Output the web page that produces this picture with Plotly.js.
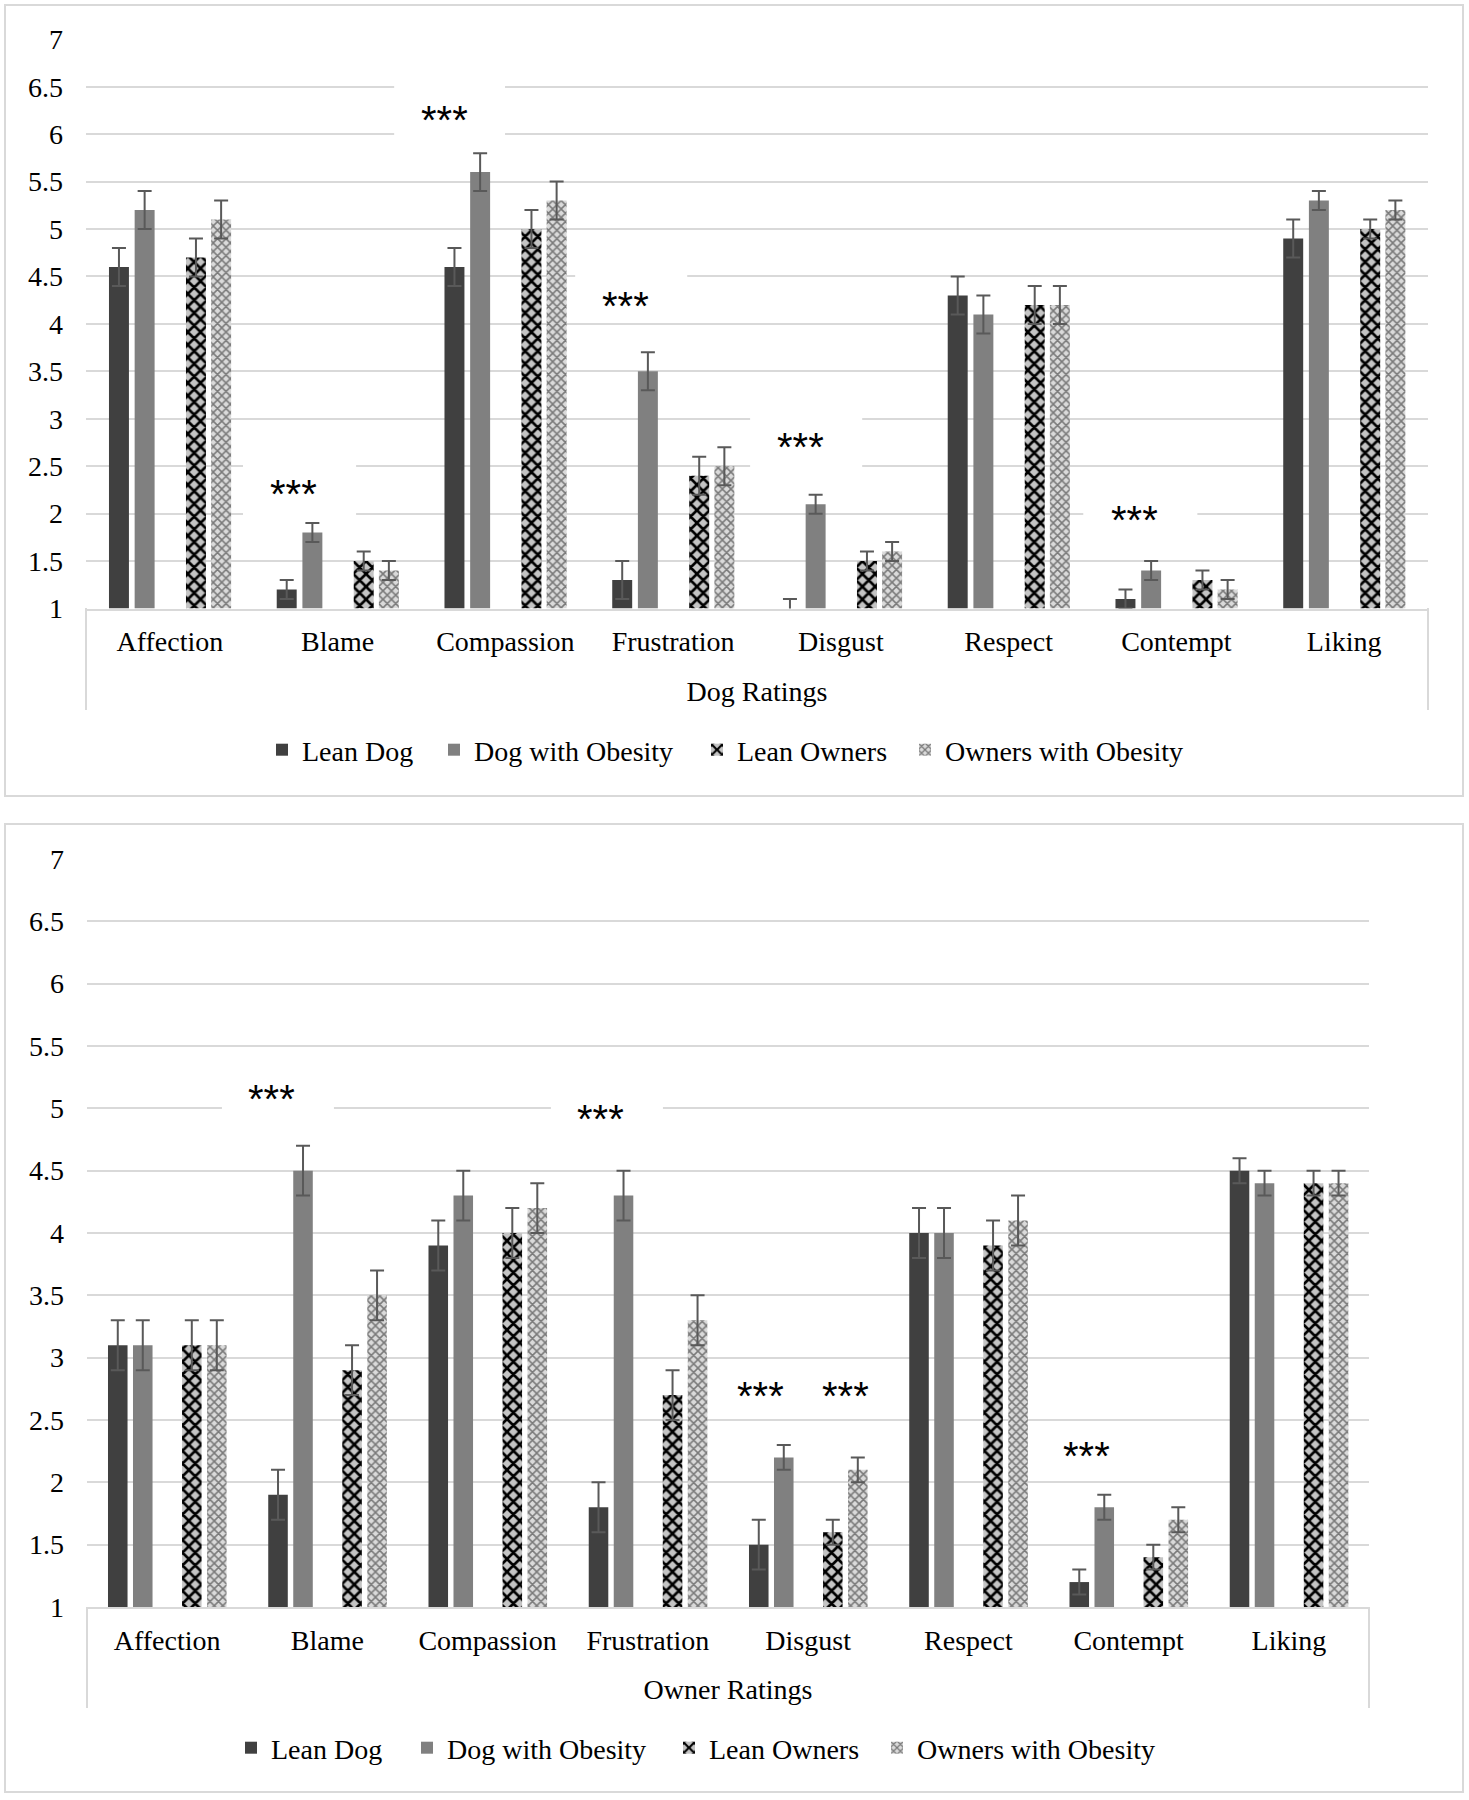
<!DOCTYPE html>
<html>
<head>
<meta charset="utf-8">
<script src="https://cdn.plot.ly/plotly-3.0.1.min.js"></script>
<style>html,body{margin:0;padding:0;background:#fff}#chart{width:1469px;height:1800px}</style>
</head>
<body>
<div id="chart"></div>
<script>
// ---------- data ----------
const categories = ['Affection','Blame','Compassion','Frustration','Disgust','Respect','Contempt','Liking'];
const seriesNames = ['Lean Dog','Dog with Obesity','Lean Owners','Owners with Obesity'];

// Dog ratings (top panel)
const dogLeanDog        = [4.6, 1.2, 4.6, 1.3, 1.0, 4.3, 1.1, 4.9];
const dogLeanDogErr     = [0.2, 0.1, 0.2, 0.2, 0.1, 0.2, 0.1, 0.2];
const dogObeseDog       = [5.2, 1.8, 5.6, 3.5, 2.1, 4.1, 1.4, 5.3];
const dogObeseDogErr    = [0.2, 0.1, 0.2, 0.2, 0.1, 0.2, 0.1, 0.1];
const dogLeanOwner      = [4.7, 1.5, 5.0, 2.4, 1.5, 4.2, 1.3, 5.0];
const dogLeanOwnerErr   = [0.2, 0.1, 0.2, 0.2, 0.1, 0.2, 0.1, 0.1];
const dogObeseOwner     = [5.1, 1.4, 5.3, 2.5, 1.6, 4.2, 1.2, 5.2];
const dogObeseOwnerErr  = [0.2, 0.1, 0.2, 0.2, 0.1, 0.2, 0.1, 0.1];

// Owner ratings (bottom panel)
const ownLeanDog        = [3.1, 1.9, 3.9, 1.8, 1.5, 4.0, 1.2, 4.5];
const ownLeanDogErr     = [0.2, 0.2, 0.2, 0.2, 0.2, 0.2, 0.1, 0.1];
const ownObeseDog       = [3.1, 4.5, 4.3, 4.3, 2.2, 4.0, 1.8, 4.4];
const ownObeseDogErr    = [0.2, 0.2, 0.2, 0.2, 0.1, 0.2, 0.1, 0.1];
const ownLeanOwner      = [3.1, 2.9, 4.0, 2.7, 1.6, 3.9, 1.4, 4.4];
const ownLeanOwnerErr   = [0.2, 0.2, 0.2, 0.2, 0.1, 0.2, 0.1, 0.1];
const ownObeseOwner     = [3.1, 3.5, 4.2, 3.3, 2.1, 4.1, 1.7, 4.4];
const ownObeseOwnerErr  = [0.2, 0.2, 0.2, 0.2, 0.1, 0.2, 0.1, 0.1];

// significance markers: category index position and rating value of the "***" label
const dogSigX   = [0.737, 1.638, 2.714, 3.758, 5.749];
const dogSigY   = [2.26, 6.20, 4.24, 2.76, 1.99];
const ownSigX   = [0.654, 2.707, 3.700, 4.236, 5.734];
const ownSigY   = [5.12, 4.96, 2.74, 2.74, 2.26];
const sigText   = '***';

// ---------- styling ----------
const FONT = 'Liberation Serif';
const GRID = '#d9d9d9';
const ERRC = '#595959';
const styles = [
  {color:'#404040'},
  {color:'#808080'},
  {color:'#c0c0c0', pattern:{shape:'x', fgcolor:'#000000', bgcolor:'#c4c4c4', size:9, solidity:0.5, fillmode:'replace'}},
  {color:'#d8d8d8', pattern:{shape:'x', fgcolor:'#7a7a7a', bgcolor:'#dadada', size:6, solidity:0.45, fillmode:'replace'}}
];
const topOffsets = [-0.363, -0.210, 0.096, 0.246], topWidth = 0.119;
const botOffsets = [-0.369, -0.213, 0.093, 0.249], botWidth = 0.122;
// one legend per entry so entries sit where the reference puts them (left edge of swatch, px)
const topLegendX = [282, 454, 717, 925];
const botLegendX = [251, 427, 689, 897];
const topLegendIds = ['legend','legend2','legend3','legend4'];
const botLegendIds = ['legend5','legend6','legend7','legend8'];

function makeTraces(vals, errs, xa, ya, legendIds, offsets, width){
  return vals.map((v,i)=>{
    const m = {color: styles[i].color, line:{width:0}};
    if(styles[i].pattern) m.pattern = styles[i].pattern;
    return {
      type:'bar', name: seriesNames[i], x: categories, y: v,
      base: 1, xaxis: xa, yaxis: ya, legend: legendIds[i],
      offset: offsets[i], width: width,
      marker: m,
      error_y: {type:'data', array: errs[i], visible:true, color:ERRC, thickness:2, width:7},
      hoverinfo:'x+y+name'
    };
  });
}
// bars start at 1 (axis floor), heights = value - 1
function rel(arr){ return arr.map(v=>v-1); }

const traces = [].concat(
  makeTraces([rel(dogLeanDog),rel(dogObeseDog),rel(dogLeanOwner),rel(dogObeseOwner)],
             [dogLeanDogErr,dogObeseDogErr,dogLeanOwnerErr,dogObeseOwnerErr],'x','y',topLegendIds,topOffsets,topWidth),
  makeTraces([rel(ownLeanDog),rel(ownObeseDog),rel(ownLeanOwner),rel(ownObeseOwner)],
             [ownLeanDogErr,ownObeseDogErr,ownLeanOwnerErr,ownObeseOwnerErr],'x2','y2',botLegendIds,botOffsets,botWidth)
);

const W = 1469, H = 1800;
const px = v => v / W, py = v => 1 - v / H;

const xBase = {
  type:'category', categoryorder:'array', categoryarray: categories,
  showgrid:false, zeroline:false, showline:true, linecolor:GRID, linewidth:2,
  ticks:'', ticklabelstandoff:7, tickfont:{family:FONT, size:28, color:'#000'},
  fixedrange:true
};
const yBase = {
  range:[1,7], dtick:0.5, tick0:1, showgrid:true, gridcolor:GRID, gridwidth:2,
  zeroline:false, showline:false, ticks:'', ticklabelstandoff:22,
  tickfont:{family:FONT, size:28, color:'#000'}, fixedrange:true
};

const shapes = [
  // panel frames
  {type:'rect', xref:'paper', yref:'paper', x0:px(5), x1:px(1463), y0:py(796), y1:py(5), line:{color:GRID, width:2}},
  {type:'rect', xref:'paper', yref:'paper', x0:px(5), x1:px(1463), y0:py(1792), y1:py(824), line:{color:GRID, width:2}},
  // category label separators
  {type:'line', xref:'x domain', yref:'paper', x0:0, x1:0, y0:py(608), y1:py(710), line:{color:GRID, width:2}},
  {type:'line', xref:'x domain', yref:'paper', x0:1, x1:1, y0:py(608), y1:py(710), line:{color:GRID, width:2}},
  {type:'line', xref:'x2 domain', yref:'paper', x0:0, x1:0, y0:py(1607), y1:py(1708), line:{color:GRID, width:2}},
  {type:'line', xref:'x2 domain', yref:'paper', x0:1, x1:1, y0:py(1607), y1:py(1708), line:{color:GRID, width:2}},
  // white label boxes behind significance markers
  {type:'rect', xref:'x', yref:'y', x0:0.436, x1:1.110, y0:1.92, y1:2.62, fillcolor:'#fff', line:{width:0}, layer:'between'},
  {type:'rect', xref:'x', yref:'y', x0:1.337, x1:1.998, y0:5.88, y1:6.57, fillcolor:'#fff', line:{width:0}, layer:'between'},
  {type:'rect', xref:'x', yref:'y', x0:2.416, x1:3.084, y0:4.06, y1:4.62, fillcolor:'#fff', line:{width:0}, layer:'between'},
  {type:'rect', xref:'x', yref:'y', x0:3.459, x1:4.127, y0:2.41, y1:3.09, fillcolor:'#fff', line:{width:0}, layer:'between'},
  {type:'rect', xref:'x', yref:'y', x0:5.445, x1:6.125, y0:1.73, y1:2.20, fillcolor:'#fff', line:{width:0}, layer:'between'},
  {type:'rect', xref:'x2', yref:'y2', x0:0.342, x1:1.041, y0:4.75, y1:5.35, fillcolor:'#fff', line:{width:0}, layer:'between'},
  {type:'rect', xref:'x2', yref:'y2', x0:2.395, x1:3.094, y0:4.67, y1:5.23, fillcolor:'#fff', line:{width:0}, layer:'between'}
];

const sigFont = {family:'Liberation Sans', size:40, color:'#000'};
const annotations = []
  .concat(dogSigX.map((x,i)=>({xref:'x', yref:'y', x:x, y:dogSigY[i], text:sigText, showarrow:false,
        font:sigFont, xanchor:'center', yanchor:'middle', yshift:-5})))
  .concat(ownSigX.map((x,i)=>({xref:'x2', yref:'y2', x:x, y:ownSigY[i], text:sigText, showarrow:false,
        font:sigFont, xanchor:'center', yanchor:'middle', yshift:-6})));

const layout = {
  width:W, height:H, margin:{l:0,r:0,t:0,b:0},
  paper_bgcolor:'#fff', plot_bgcolor:'rgba(0,0,0,0)',
  font:{family:FONT, size:28, color:'#000'},
  barmode:'overlay', showlegend:true,
  xaxis: Object.assign({}, xBase, {domain:[px(86), px(1428)], anchor:'y',
         title:{text:'Dog Ratings', font:{family:FONT, size:28, color:'#000'}, standoff:25}}),
  yaxis: Object.assign({}, yBase, {domain:[py(608.5), py(39.3)], anchor:'x'}),
  xaxis2: Object.assign({}, xBase, {domain:[px(87), px(1369)], anchor:'y2',
         title:{text:'Owner Ratings', font:{family:FONT, size:28, color:'#000'}, standoff:25}}),
  yaxis2: Object.assign({}, yBase, {domain:[py(1607), py(859)], anchor:'x2'}),
  shapes: shapes,
  annotations: annotations
};
function legendAt(xLeft, yMid){
  return {orientation:'h', x:px(xLeft - 20), xanchor:'left', y:py(yMid), yanchor:'middle',
          font:{family:FONT, size:28, color:'#000'}, bgcolor:'rgba(0,0,0,0)', borderwidth:0};
}
topLegendIds.forEach((id,i)=>{ layout[id] = legendAt(topLegendX[i], 750); });
botLegendIds.forEach((id,i)=>{ layout[id] = legendAt(botLegendX[i], 1748); });

Plotly.newPlot('chart', traces, layout, {staticPlot:true, displayModeBar:false});
</script>
</body>
</html>
